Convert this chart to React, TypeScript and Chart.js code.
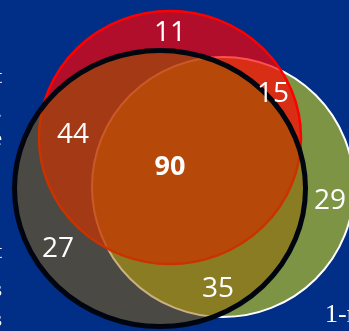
import { useEffect, useRef } from "react";
import { Chart, registerables } from "chart.js";

Chart.register(...registerables);

// Region counts of the three-set diagram
const regionNames = ["red only", "red + green", "red + ring", "all three", "green only", "ring only", "ring + green"];
const regionCounts = [11, 15, 44, 90, 29, 27, 35];
const regionBold = [false, false, false, true, false, false, false];

// Where each count sits (chart units = canvas pixels)
const labelX = [170, 273, 73, 170, 330, 58, 218];
const labelY = [41, 102, 143, 175, 209, 257, 297];

// Set outlines: centre and half-axes, in chart units
const setNames = ["Green", "Red", "Ring"];
const setCenterX = [223, 170, 160];
const setCenterY = [187, 137.5, 188.5];
const setRadiusX = [131, 131, 145.5];
const setRadiusY = [130, 126.5, 138];
const setFill = ["rgb(125,148,69)", "rgba(255,0,0,0.69)", "rgba(150,99,0,0.5)"];
const setStroke = ["#ffffff", "#ff0000", "#000510"];
const setStrokeWidth = [2, 2.5, 5];

const BG = "#012E87";
const W = 349;
const H = 331;

const ellipsePlugin = {
  id: "ellipses",
  beforeDatasetsDraw(chart: any) {
    const { ctx, scales } = chart;
    const xs = scales.x;
    const ys = scales.y;
    chart.data.datasets.forEach((ds: any) => {
      if (ds.kind !== "set") return;
      const p = ds.data[0];
      const cx = xs.getPixelForValue(p.x);
      const cy = ys.getPixelForValue(p.y);
      const rx = Math.abs(xs.getPixelForValue(p.x + p.rx) - cx);
      const ry = Math.abs(ys.getPixelForValue(p.y + p.ry) - cy);
      ctx.save();
      ctx.beginPath();
      ctx.ellipse(cx, cy, rx, ry, 0, 0, Math.PI * 2);
      ctx.fillStyle = ds.fillColor;
      ctx.fill();
      ctx.lineWidth = ds.strokeWidth;
      ctx.strokeStyle = ds.strokeColor;
      ctx.stroke();
      ctx.restore();
    });
  },
  afterDatasetsDraw(chart: any) {
    const { ctx } = chart;
    chart.data.datasets.forEach((ds: any, di: number) => {
      if (ds.kind !== "labels") return;
      const meta = chart.getDatasetMeta(di);
      meta.data.forEach((el: any, i: number) => {
        const d = ds.data[i];
        ctx.save();
        ctx.fillStyle = "#ffffff";
        ctx.textAlign = "center";
        ctx.textBaseline = "alphabetic";
        ctx.font = d.bold ? "bold 27px 'Open Sans'" : "28px 'Open Sans'";
        ctx.fillText(String(d.v), el.x, el.y);
        ctx.restore();
      });
    });
  },
  beforeDraw(chart: any) {
    const { ctx } = chart;
    ctx.save();
    ctx.fillStyle = BG;
    ctx.fillRect(0, 0, chart.width, chart.height);
    ctx.restore();
  },
  afterDraw(chart: any) {
    const { ctx } = chart;
    ctx.save();
    ctx.fillStyle = "#ffffff";
    ctx.font = "22px 'Liberation Serif'";
    ctx.textAlign = "right";
    ctx.textBaseline = "alphabetic";
    // ends of slide text running in from the left
    const tails: [string, number][] = [["t", 83], [".", 117], ["e", 145], ["t", 258], ["s", 296], ["s", 326]];
    tails.forEach(([t, y]) => ctx.fillText(t, 2, y));
    ctx.textAlign = "left";
    ctx.font = "26px 'Liberation Serif'";
    ctx.fillText("1-r", 325, 322);
    ctx.restore();
  },
};

export default function App() {
  const ref = useRef<HTMLCanvasElement | null>(null);

  useEffect(() => {
    if (!ref.current) return;
    // bottom set first so later sets paint over it
    const setDatasets = setNames.map((name, i) => ({
      label: name,
      kind: "set",
      data: [{ x: setCenterX[i], y: setCenterY[i], rx: setRadiusX[i], ry: setRadiusY[i] }],
      fillColor: setFill[i],
      strokeColor: setStroke[i],
      strokeWidth: setStrokeWidth[i],
      pointRadius: 0,
    }));
    const labelDataset = {
      label: "counts",
      kind: "labels",
      data: regionCounts.map((v, i) => ({ x: labelX[i], y: labelY[i], v, bold: regionBold[i], name: regionNames[i] })),
      pointRadius: 0,
    };
    const chart = new Chart(ref.current, {
      type: "scatter",
      data: { datasets: [...setDatasets, labelDataset] as any },
      options: {
        animation: false,
        responsive: false,
        devicePixelRatio: 1,
        layout: { padding: 0 },
        events: [],
        scales: {
          x: { type: "linear", min: 0, max: W, display: false },
          y: { type: "linear", min: 0, max: H, reverse: true, display: false },
        },
        plugins: { legend: { display: false }, tooltip: { enabled: false } },
      },
      plugins: [ellipsePlugin],
    });
    return () => chart.destroy();
  }, []);

  return (
    <div style={{ position: "fixed", left: 0, top: 0, width: W, height: H, background: BG }}>
      <canvas ref={ref} width={W} height={H} style={{ display: "block" }} />
    </div>
  );
}
